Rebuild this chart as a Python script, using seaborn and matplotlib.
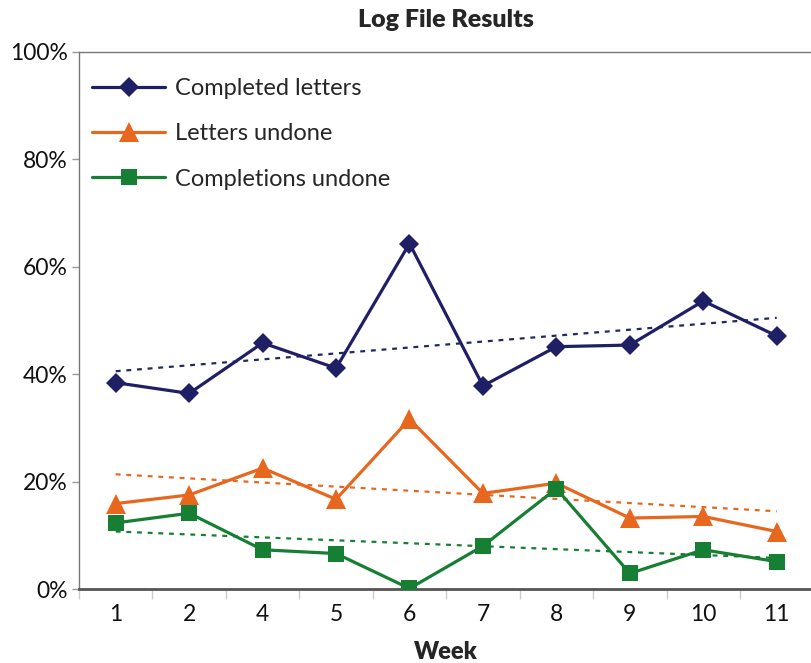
import matplotlib
matplotlib.use("Agg")
import matplotlib.pyplot as plt
import seaborn as sns
import numpy as np
import pandas as pd
from matplotlib.ticker import FuncFormatter, FixedLocator

weeks = ["1", "2", "4", "5", "6", "7", "8", "9", "10", "11"]
completed_letters = [38.4, 36.4, 45.8, 41.1, 64.3, 37.8, 45.1, 45.4, 53.6, 47.1]
letters_undone = [15.9, 17.5, 22.5, 16.7, 31.6, 17.8, 19.7, 13.2, 13.5, 10.7]
completions_undone = [12.3, 14.1, 7.3, 6.6, 0.1, 8.0, 18.7, 2.9, 7.3, 5.1]

series_names = ["Completed letters", "Letters undone", "Completions undone"]
series_values = [completed_letters, letters_undone, completions_undone]
colors = ["#1f1f66", "#e8671e", "#177f33"]
trend_colors = ["#1f2a5c", "#e8671e", "#177f33"]
markers = ["D", "^", "s"]
msizes = [10.5, 14, 12]

sns.set_style("white")
plt.rcParams["font.family"] = ["Lato", "DejaVu Sans"]

fig = plt.figure(figsize=(8.11, 6.63), dpi=100)
ax = fig.add_axes([79 / 811, 1 - 589 / 663, 1 - 79 / 811 + 0.003, (589 - 51.7) / 663])

pos = np.arange(len(weeks))
for name, vals, c, m, ms, tc in zip(series_names, series_values, colors, markers, msizes, trend_colors):
    df = pd.DataFrame({"pos": pos, "val": vals})
    sns.regplot(data=df, x="pos", y="val", scatter=False, ci=None, ax=ax, truncate=True,
                line_kws=dict(color=tc, lw=1.6, linestyle=(0, (2.2, 2.6))))
    sns.lineplot(data=df, x="pos", y="val", ax=ax, color=c, lw=2.3, marker=m,
                 markersize=ms, markeredgewidth=0, label=name, zorder=5)

ax.set_xlim(-0.5, len(weeks) - 0.5)
ax.set_ylim(0, 100)
ax.set_xticks(pos)
ax.set_xticklabels(weeks)
ax.xaxis.set_minor_locator(FixedLocator(np.arange(len(weeks) + 1) - 0.5))
ax.tick_params(axis="x", which="major", length=0, pad=11, labelsize=16.5, colors="#111111")
ax.tick_params(axis="x", which="minor", length=7, width=1, color="#cccccc", direction="out", bottom=True)
ax.set_yticks([0, 20, 40, 60, 80, 100])
ax.yaxis.set_major_formatter(FuncFormatter(lambda v, p: f"{int(v)}%"))
ax.tick_params(axis="y", which="major", length=5, width=1, color="#999999", direction="out", left=True,
               pad=3, labelsize=16.5, labelcolor="#111111")

for s in ["left", "top"]:
    ax.spines[s].set_color("#777777")
    ax.spines[s].set_linewidth(1.0)
ax.spines["bottom"].set_color("#555555")
ax.spines["bottom"].set_linewidth(2.0)
ax.spines["right"].set_visible(False)

ax.set_xlabel("Week", fontsize=17, fontweight="heavy", labelpad=11)
ax.set_ylabel("")
ax.set_title("Log File Results", fontsize=18, fontweight="heavy", pad=18)

leg = ax.legend(loc="upper left", bbox_to_anchor=(0.005, 0.968), borderaxespad=0, frameon=False,
                fontsize=17, handlelength=3.1, handletextpad=0.42, labelspacing=1.02)

fig.savefig("out.png", dpi=100)
